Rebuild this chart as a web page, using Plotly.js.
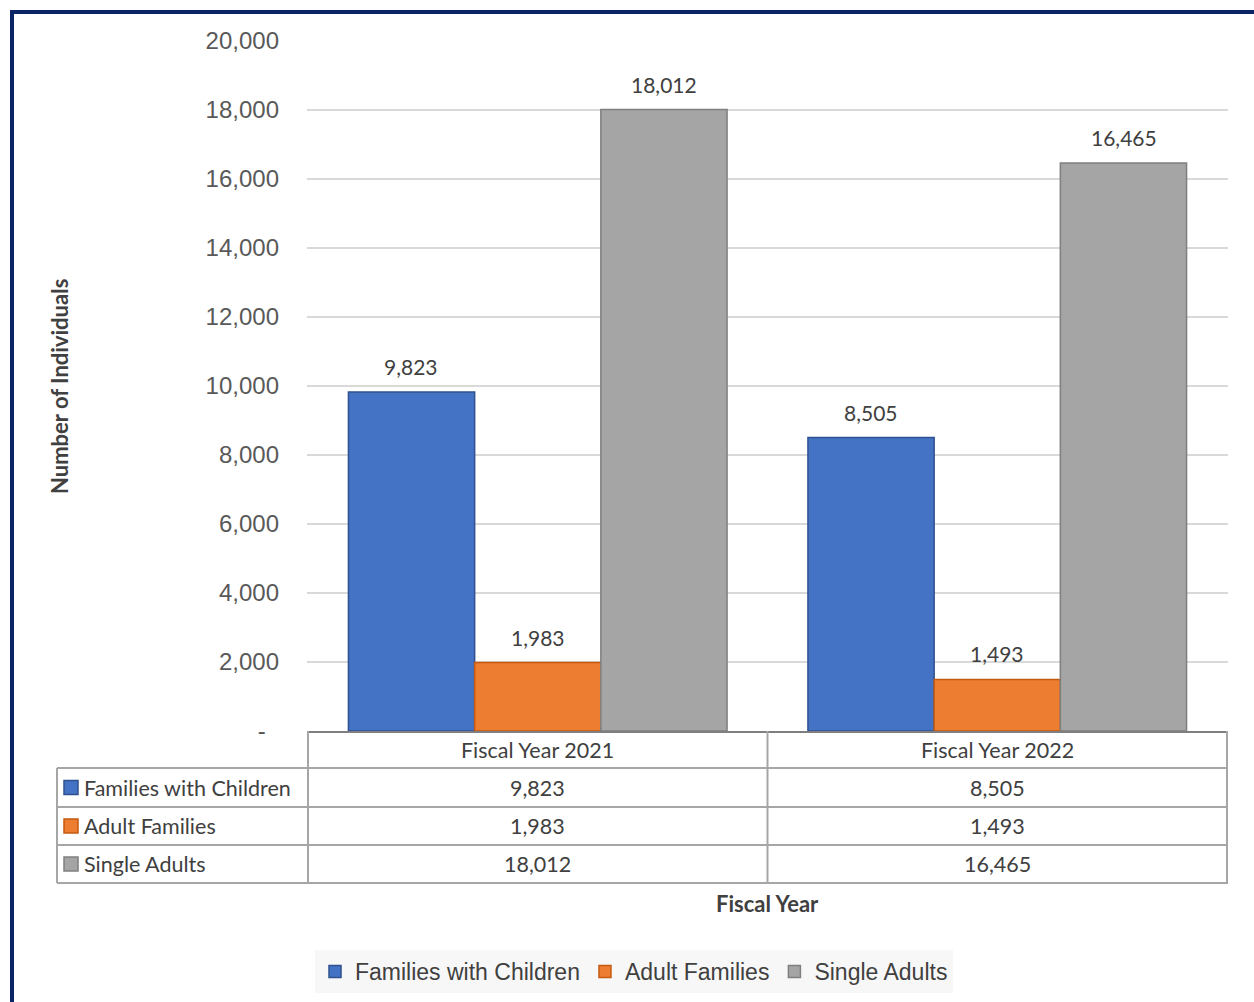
<!DOCTYPE html>
<html>
<head>
<meta charset="utf-8">
<script src="https://cdn.plot.ly/plotly-3.0.1.min.js"></script>
<style>
  html, body { margin: 0; padding: 0; background: #ffffff; }
  #chart { width: 1254px; height: 1002px; }
</style>
</head>
<body>
<div id="chart"></div>
<script>
// Fiscal years shown on the category axis and in the data table
const fiscalYears = ['Fiscal Year 2021', 'Fiscal Year 2022'];

// Individuals served, by household type
const seriesNames = ['Families with Children', 'Adult Families', 'Single Adults'];
const familiesWithChildren = [9823, 8505];
const adultFamilies = [1983, 1493];
const singleAdults = [18012, 16465];

// Value axis ticks
const yTickVals = [0, 2000, 4000, 6000, 8000, 10000, 12000, 14000, 16000, 18000, 20000];
const yTickText = ['-\u00a0\u00a0', '2,000', '4,000', '6,000', '8,000', '10,000', '12,000', '14,000', '16,000', '18,000', '20,000'];

const seriesValues = [familiesWithChildren, adultFamilies, singleAdults];
const fills = ['#4472C4', '#ED7D31', '#A5A5A5'];
const edges = ['#2F528F', '#C55A11', '#7F7F7F'];

// Page geometry
const W = 1254, H = 1002;
const M = { l: 307, r: 26, t: 41, b: 271 };
const plotW = W - M.l - M.r;
const plotH = H - M.t - M.b;
const BARGAP = 0.176;

// helpers: page pixel -> paper coordinate
const px = x => (x - M.l) / plotW;
const py = y => (H - M.b - y) / plotH;

const fmt = v => v.toLocaleString('en-US');

const traces = seriesNames.map((name, i) => ({
  type: 'bar',
  name: name,
  x: fiscalYears,
  y: seriesValues[i],
  marker: { color: fills[i], line: { color: edges[i], width: 1.5 } },
  hoverinfo: 'x+y+name'
}));

const FONT = 'Lato, "Open Sans", sans-serif';
const labelFont = { family: FONT, size: 21, color: '#404040' };
const tableFont = { family: FONT, size: 21.5, color: '#404040' };
const gridLine = '#A6A6A6';

const annotations = [];
const shapes = [];

// value labels above each bar
const barPx = plotW / fiscalYears.length * (1 - BARGAP) / seriesNames.length;
seriesValues.forEach((vals, i) => {
  vals.forEach((v, j) => {
    annotations.push({
      xref: 'x', yref: 'y', x: fiscalYears[j], y: v,
      xshift: (i - (seriesNames.length - 1) / 2) * barPx,
      yshift: 11, yanchor: 'bottom', xanchor: 'center',
      text: fmt(v), showarrow: false, font: labelFont
    });
  });
});

// data table under the plot
const rowLines = [731, 768, 807, 845, 883];
const headerY = (rowLines[0] + rowLines[1]) / 2;
const tableLeft = px(57);
const tableRight = 1;

// header row: fiscal years
fiscalYears.forEach(fy => {
  annotations.push({
    xref: 'x', yref: 'paper', x: fy, y: py(headerY),
    text: fy, showarrow: false, font: tableFont, xanchor: 'center', yanchor: 'middle'
  });
});

// series rows
seriesNames.forEach((name, i) => {
  const cy = (rowLines[i + 1] + rowLines[i + 2]) / 2;
  shapes.push({
    type: 'rect', xref: 'paper', yref: 'paper',
    x0: px(64), x1: px(78), y0: py(cy + 7), y1: py(cy - 7),
    fillcolor: fills[i], line: { color: edges[i], width: 1.5 }
  });
  annotations.push({
    xref: 'paper', yref: 'paper', x: px(82), y: py(cy),
    text: name, showarrow: false, font: tableFont, xanchor: 'left', yanchor: 'middle'
  });
  seriesValues[i].forEach((v, j) => {
    annotations.push({
      xref: 'x', yref: 'paper', x: fiscalYears[j], y: py(cy),
      text: fmt(v), showarrow: false, font: tableFont, xanchor: 'center', yanchor: 'middle'
    });
  });
});

// table rules: horizontal
rowLines.slice(1).forEach(yy => {
  shapes.push({
    type: 'line', xref: 'paper', yref: 'paper', x0: tableLeft, x1: tableRight,
    y0: py(yy), y1: py(yy), line: { color: gridLine, width: 2 }
  });
});
// table rules: vertical (category boundaries)
for (let k = 0; k <= fiscalYears.length; k++) {
  shapes.push({
    type: 'line', xref: 'x', yref: 'paper', x0: k - 0.5, x1: k - 0.5,
    y0: 0, y1: py(rowLines[rowLines.length - 1]), line: { color: gridLine, width: 2 }
  });
}
shapes.push({
  type: 'line', xref: 'paper', yref: 'paper', x0: tableLeft, x1: tableLeft,
  y0: py(rowLines[1]), y1: py(rowLines[rowLines.length - 1]), line: { color: gridLine, width: 2 }
});

// navy frame along the top and left edges
const navy = '#0C2466';
shapes.push({
  type: 'line', xref: 'paper', yref: 'paper', x0: px(12), x1: px(W + 5),
  y0: py(12), y1: py(12), line: { color: navy, width: 4 }
});
shapes.push({
  type: 'line', xref: 'paper', yref: 'paper', x0: px(12), x1: px(12),
  y0: py(10), y1: py(H + 5), line: { color: navy, width: 4 }
});

// axis titles
annotations.push({
  xref: 'paper', yref: 'paper', x: px(767), y: py(903),
  text: '<b>Fiscal Year</b>', showarrow: false, xanchor: 'center', yanchor: 'middle',
  font: { family: FONT, size: 22, color: '#404040' }
});
annotations.push({
  xref: 'paper', yref: 'paper', x: px(60), y: py(387),
  text: '<b>Number of Individuals</b>', showarrow: false, textangle: -90,
  xanchor: 'center', yanchor: 'middle',
  font: { family: FONT, size: 22, color: '#404040' }
});

const layout = {
  width: W, height: H,
  margin: M,
  paper_bgcolor: '#ffffff',
  plot_bgcolor: '#ffffff',
  barmode: 'group',
  bargap: BARGAP,
  bargroupgap: 0,
  showlegend: true,
  legend: {
    orientation: 'h',
    xref: 'container', yref: 'container',
    x: 634 / W, xanchor: 'center',
    y: 1 - 950 / H, yanchor: 'top',
    bgcolor: '#F7F7F7',
    font: { family: '"Liberation Sans", Arial, sans-serif', size: 23, color: '#404040' },
    itemwidth: 30,
    traceorder: 'normal'
  },
  xaxis: {
    type: 'category',
    showticklabels: false,
    showgrid: false,
    zeroline: false,
    showline: true,
    linecolor: '#7F7F7F',
    linewidth: 2,
    ticks: '',
    fixedrange: true
  },
  yaxis: {
    range: [0, 20000],
    tickvals: yTickVals,
    ticktext: yTickText,
    showgrid: true,
    gridcolor: '#D9D9D9',
    gridwidth: 1.5,
    zeroline: false,
    showline: false,
    ticks: '',
    ticklabelstandoff: 27,
    tickfont: { family: '"Liberation Sans", Arial, sans-serif', size: 24, color: '#595959' },
    fixedrange: true
  },
  shapes: shapes,
  annotations: annotations
};

Plotly.newPlot('chart', traces, layout, { displayModeBar: false, staticPlot: true });
</script>
</body>
</html>
